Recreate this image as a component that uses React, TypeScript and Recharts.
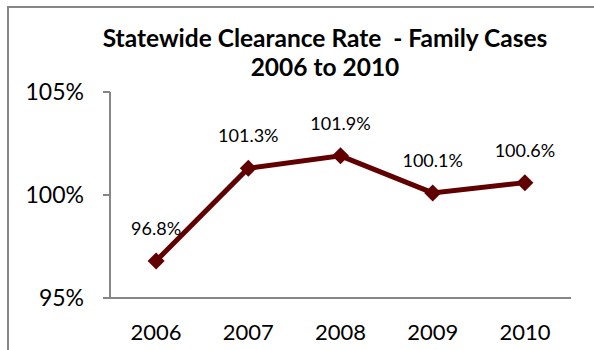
import { LineChart, Line, XAxis, YAxis, LabelList } from 'recharts';

const years = ['2006', '2007', '2008', '2009', '2010'];
const clearanceRate = [96.8, 101.3, 101.9, 100.1, 100.6];
const yTicks = [95, 100, 105];
// category centres and the boundaries between them (Excel draws ticks between categories)
const yearTicks = [1, 2, 3, 4, 5];
const boundaryTicks = [0.5, 1.5, 2.5, 3.5, 4.5, 5.5];

const data = years.map((year, i) => ({ pos: i + 1, year, rate: clearanceRate[i] }));

const LINE_COLOR = '#600000';
const AXIS_COLOR = '#868686';
const FONT = 'Lato, "Open Sans", sans-serif';

function Diamond(props: any) {
  const { cx, cy } = props;
  if (cx == null || cy == null) return null;
  const r = 8.5;
  return (
    <polygon
      points={`${cx},${cy - r} ${cx + r},${cy} ${cx},${cy + r} ${cx - r},${cy}`}
      fill={LINE_COLOR}
    />
  );
}

export default function App() {
  return (
    <div
      style={{
        position: 'absolute',
        left: 0,
        top: 0,
        width: 594,
        height: 350,
        overflow: 'hidden',
        background: '#fff',
        fontFamily: FONT,
      }}
    >
      <div
        style={{
          position: 'absolute',
          left: 7,
          top: 6,
          width: 587,
          height: 344,
          boxSizing: 'border-box',
          borderTop: `2px solid ${AXIS_COLOR}`,
          borderLeft: `2px solid ${AXIS_COLOR}`,
        }}
      />
      <div
        style={{
          position: 'absolute',
          left: 0,
          width: 650,
          top: 23,
          textAlign: 'center',
          fontWeight: 700,
          fontSize: 24.5,
          lineHeight: '29px',
          color: '#000',
        }}
      >
        <div>Statewide Clearance Rate&nbsp; - Family Cases</div>
        <div>2006 to 2010</div>
      </div>
      <div style={{ position: 'absolute', left: 0, top: 0 }}>
        <LineChart
          width={594}
          height={350}
          data={data}
          margin={{ top: 92, right: 23, bottom: 0, left: 10 }}
        >
          <XAxis
            dataKey="pos"
            type="number"
            domain={[0.5, 5.5]}
            ticks={boundaryTicks}
            allowDataOverflow
            tick={false}
            tickSize={7}
            height={7}
            axisLine={{ stroke: AXIS_COLOR, strokeWidth: 2 }}
            tickLine={{ stroke: AXIS_COLOR, strokeWidth: 2 }}
          />
          <XAxis
            xAxisId="labels"
            dataKey="pos"
            type="number"
            domain={[0.5, 5.5]}
            ticks={yearTicks}
            allowDataOverflow
            interval={0}
            axisLine={false}
            tickLine={false}
            tickSize={0}
            tickMargin={19}
            height={45}
            tickFormatter={(v: number) => years[v - 1]}
            tick={{ fill: '#000', fontSize: 22, fontFamily: FONT }}
          />
          <YAxis
            domain={[95, 105]}
            ticks={yTicks}
            allowDataOverflow
            width={100}
            tickSize={7}
            tickMargin={19}
            tickFormatter={(v: number) => `${v}%`}
            tick={{ fill: '#000', fontSize: 23, fontFamily: FONT }}
            axisLine={{ stroke: AXIS_COLOR, strokeWidth: 2 }}
            tickLine={{ stroke: AXIS_COLOR, strokeWidth: 2 }}
          />
          <Line
            dataKey="rate"
            stroke={LINE_COLOR}
            strokeWidth={5}
            dot={<Diamond />}
            activeDot={false}
            isAnimationActive={false}
          >
            <LabelList
              dataKey="rate"
              position="top"
              offset={26}
              formatter={(v: any) => `${Number(v).toFixed(1)}%`}
              style={{ fill: '#000', fontSize: 18, fontFamily: FONT }}
            />
          </Line>
        </LineChart>
      </div>
    </div>
  );
}
